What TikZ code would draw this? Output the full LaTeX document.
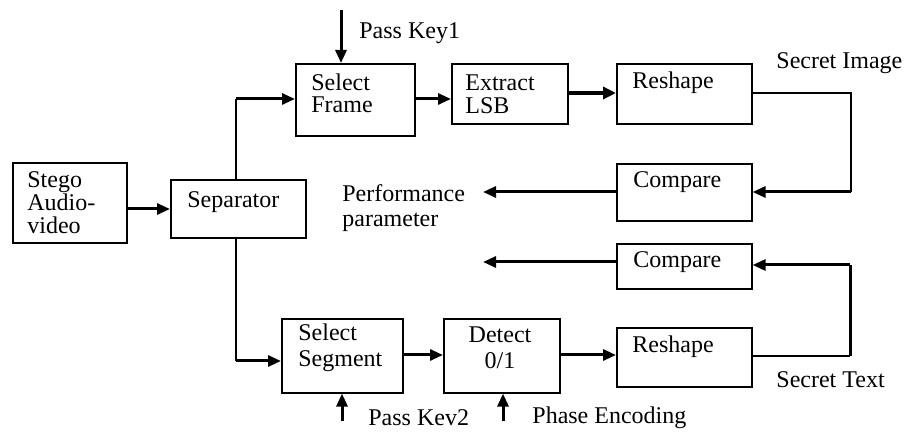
\documentclass[tikz,border=0pt]{standalone}
\usepackage{fontspec}
\setmainfont{Liberation Serif}
\usetikzlibrary{arrows.meta}
\begin{document}
\begin{tikzpicture}[x=0.5pt,y=-0.5pt,
  box/.style={draw, line width=0.8pt, rectangle, inner sep=0pt},
  txt/.style={font=\fontsize{12}{12}\selectfont, inner sep=0pt, anchor=west, align=left},
  flow/.style={line width=1.5pt, -{Triangle[length=6.5pt,width=5.5pt]}},
  thin/.style={line width=0.8pt},
  thick flow/.style={line width=2.4pt, -{Triangle[length=6.5pt,width=6pt]}}]
\useasboundingbox (0,0) rectangle (905,432);
\fill[white] (0,0) rectangle (905,432);
% boxes
\node[box, minimum width=57pt, minimum height=40pt, anchor=north west] (stego) at (12,162) {};
\node[box, minimum width=67.5pt, minimum height=29pt, anchor=north west] (sep) at (170,179) {};
\node[box, minimum width=59.5pt, minimum height=36pt, anchor=north west] (selframe) at (295,63) {};
\node[box, minimum width=58pt, minimum height=30pt, anchor=north west] (extract) at (451,63) {};
\node[box, minimum width=67.5pt, minimum height=30pt, anchor=north west] (reshapeA) at (616,63) {};
\node[box, minimum width=67.5pt, minimum height=28.5pt, anchor=north west] (compareA) at (616,163) {};
\node[box, minimum width=67.5pt, minimum height=22.5pt, anchor=north west] (compareB) at (616,243) {};
\node[box, minimum width=67.5pt, minimum height=29.5pt, anchor=north west] (reshapeB) at (616,327) {};
\node[box, minimum width=60.5pt, minimum height=37pt, anchor=north west] (selseg) at (281,318) {};
\node[box, minimum width=58pt, minimum height=37pt, anchor=north west] (detect) at (443,318) {};
% box texts
\node[txt, font=\fontsize{12}{11.5}\selectfont] (tstego) at (27,203) {Stego\\Audio-\\video};
\node[txt] (tsep) at (187,202) {Separator};
\node[txt, font=\fontsize{12}{11}\selectfont] (tsf) at (311,93) {Select\\Frame};
\node[txt, font=\fontsize{12}{11.5}\selectfont] (tex) at (465,94) {Extract\\LSB};
\node[txt] (tra) at (632,83) {Reshape};
\node[txt] (tca) at (633,182) {Compare};
\node[txt] (tcb) at (633,262) {Compare};
\node[txt] (trb) at (632,347) {Reshape};
\node[txt, font=\fontsize{12}{13}\selectfont] (tss) at (298,348) {Select\\Segment};
\node[txt, font=\fontsize{12}{13}\selectfont, anchor=center, align=center] (tdt) at (500,348) {Detect\\0/1};
% outside labels
\node[txt] (lpk1) at (359,33) {Pass Key1};
\node[txt] (lsi) at (776,63) {Secret Image};
\node[txt, font=\fontsize{12}{12.5}\selectfont] (lpp) at (342,208) {Performance\\parameter};
\node[txt] (lst) at (776,380) {Secret Text};
\node[txt] (lpk2) at (368,418) {Pass Kev2};
\node[txt] (lpe) at (532,418) {Phase Encoding};
% free ends
\coordinate (k1) at (341,10);
\coordinate (k2) at (342,421);
\coordinate (pe) at (503,421);
\coordinate (outA) at (483,192);
\coordinate (outB) at (483,262);
\coordinate (loopA) at (851,93);
\coordinate (loopB) at (850,356);
% connectors
\draw[flow] (k1) -- (selframe.north -| k1);
\draw[flow] (stego.east |- 0,209) -- (sep.west |- 0,209);
\draw[thin] (sep.north -| 236,0) -- (236,99);
\draw[flow] (236,99) -- (selframe.west |- 0,99);
\draw[thin] (sep.south -| 236,0) -- (236,361);
\draw[flow] (236,361) -- (selseg.west |- 0,361);
\draw[flow] (selframe.east |- 0,99) -- (extract.west |- 0,99);
\draw[thick flow] (extract.east |- 0,93) -- (reshapeA.west |- 0,93);
\draw[thin] (reshapeA.east |- 0,93) -- (loopA) -- (loopA |- 0,192);
\draw[flow] (loopA |- 0,192) -- (compareA.east |- 0,192);
\draw[flow] (compareA.west |- 0,192) -- (outA);
\draw[flow] (compareB.west |- 0,262) -- (outB);
\draw[thin] (reshapeB.east |- 0,356) -- (loopB);
\draw[line width=1.5pt] (loopB) -- (loopB |- 0,265);
\draw[flow] (loopB |- 0,265) -- (compareB.east |- 0,265);
\draw[flow] (selseg.east |- 0,355) -- (detect.west |- 0,355);
\draw[flow] (detect.east |- 0,355) -- (reshapeB.west |- 0,355);
\draw[flow] (k2) -- (selseg.south -| k2);
\draw[flow] (pe) -- (detect.south -| pe);
\end{tikzpicture}
\end{document}
